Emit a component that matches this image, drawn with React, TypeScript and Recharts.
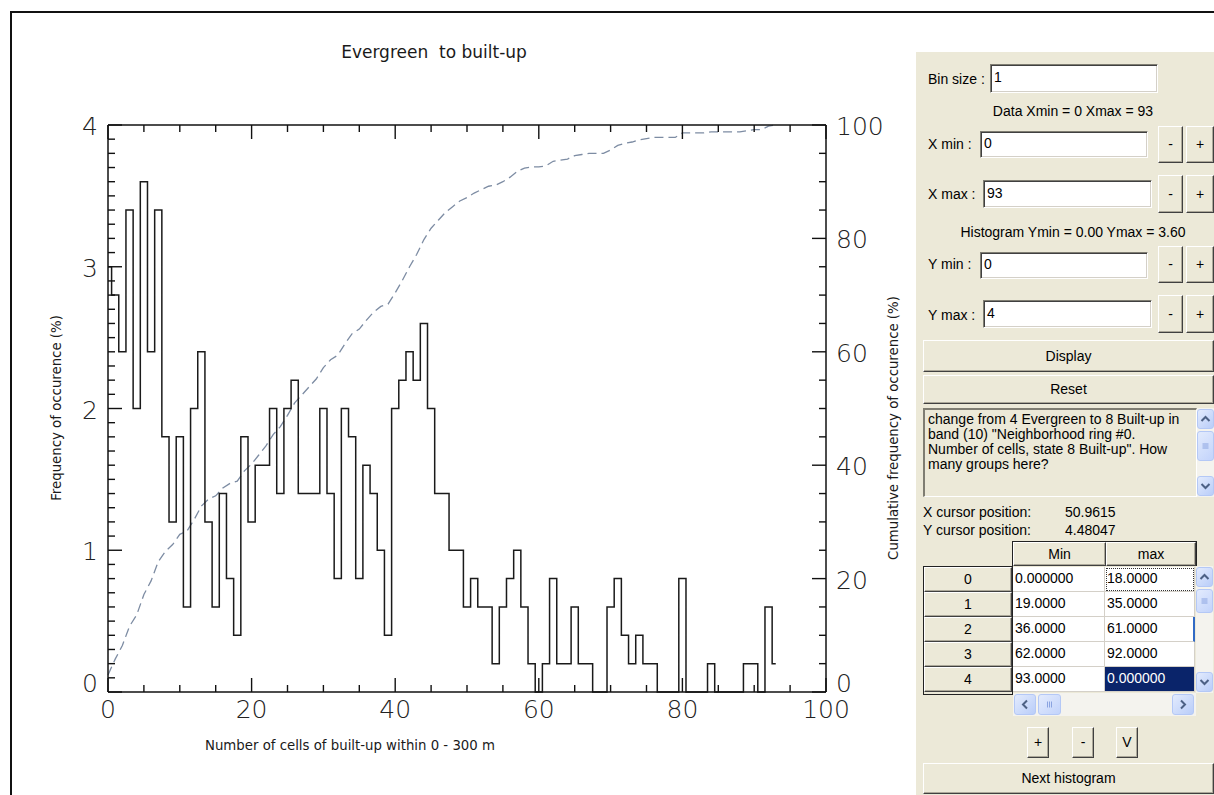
import React from 'react';
import { ComposedChart, Line, XAxis, YAxis } from 'recharts';

// histogram bins (bin size 1, data 0..93)
const bins = Array.from({ length: 94 }, (_, i) => i);

// frequency of occurence (%) per bin
const frequency = [
  3.0, 2.8, 2.4, 3.4, 2.0, 3.6, 2.4, 3.4, 1.8, 1.2,
  1.8, 0.6, 2.0, 2.4, 1.2, 0.6, 1.4, 0.8, 0.4, 1.8,
  1.2, 1.6, 1.6, 2.0, 1.4, 2.0, 2.2, 1.4, 1.4, 1.4,
  2.0, 1.4, 0.8, 2.0, 1.8, 0.8, 1.6, 1.4, 1.0, 0.4,
  2.0, 2.2, 2.4, 2.2, 2.6, 2.0, 1.4, 1.4, 1.0, 1.0,
  0.6, 0.8, 0.6, 0.6, 0.2, 0.6, 0.8, 1.0, 0.6, 0.2,
  0.0, 0.2, 0.8, 0.2, 0.2, 0.6, 0.2, 0.2, 0.0, 0.0,
  0.6, 0.8, 0.4, 0.2, 0.4, 0.2, 0.2, 0.0, 0.0, 0.0,
  0.8, 0.0, 0.0, 0.0, 0.2, 0.0, 0.0, 0.0, 0.0, 0.2,
  0.2, 0.0, 0.6, 0.2,
];

// cumulative frequency of occurence (%)
const cumulative = [
  3.0, 5.8, 8.2, 11.6, 13.6, 17.2, 19.6, 23.0, 24.8, 26.0,
  27.8, 28.4, 30.4, 32.8, 34.0, 34.6, 36.0, 36.8, 37.2, 39.0,
  40.2, 41.8, 43.4, 45.4, 46.8, 48.8, 51.0, 52.4, 53.8, 55.2,
  57.2, 58.6, 59.4, 61.4, 63.2, 64.0, 65.6, 67.0, 68.0, 68.4,
  70.4, 72.6, 75.0, 77.2, 79.8, 81.8, 83.2, 84.6, 85.6, 86.6,
  87.2, 88.0, 88.6, 89.2, 89.4, 90.0, 90.8, 91.8, 92.4, 92.6,
  92.6, 92.8, 93.6, 93.8, 94.0, 94.6, 94.8, 95.0, 95.0, 95.0,
  95.6, 96.4, 96.8, 97.0, 97.4, 97.6, 97.8, 97.8, 97.8, 97.8,
  98.6, 98.6, 98.6, 98.6, 98.8, 98.8, 98.8, 98.8, 98.8, 99.0,
  99.2, 99.2, 99.8, 100.0,
];

const xTickLabels = [0, 20, 40, 60, 80, 100];
const leftTickLabels = [0, 1, 2, 3, 4];
const rightTickLabels = [0, 20, 40, 60, 80, 100];

// minor tick positions
const xTicks = Array.from({ length: 21 }, (_, i) => i * 5);
const leftTicks = Array.from({ length: 41 }, (_, i) => i / 10);
const rightTicks = Array.from({ length: 21 }, (_, i) => i * 5);

const rangeRows = [
  ['0', '0.000000', '18.0000'],
  ['1', '19.0000', '35.0000'],
  ['2', '36.0000', '61.0000'],
  ['3', '62.0000', '92.0000'],
  ['4', '93.0000', '0.000000'],
];

const descLines = [
  'change from 4 Evergreen to 8 Built-up in',
  'band (10) "Neighborhood ring #0.',
  'Number of cells, state 8 Built-up". How',
  'many groups here?',
];

const chartData = bins.map((b, i) => ({ x: b, freq: frequency[i], cum: cumulative[i] }));

const MAJOR = 14;
const MINOR = 7;
const tickFont = {
  fontFamily: '"DejaVu Sans", sans-serif',
  fontWeight: 200,
  fontSize: 25,
  fill: '#222',
};

const isIn = (v: number, list: number[]) => list.some(m => Math.abs(m - v) < 1e-6);

const makeTick = (side: string, majors: number[], labels: boolean) => (props: any) => {
  const { x, y, payload } = props;
  const v = payload.value as number;
  const major = isIn(v, majors);
  const len = major ? MAJOR : MINOR;
  const ln = { stroke: '#111', strokeWidth: 1.4 };
  let line = null;
  let text = null;
  const dy = v === 0 ? 0 : 10;
  if (side === 'bottom') {
    line = <line x1={x} y1={y} x2={x} y2={y - len} {...ln} />;
    if (labels && major) text = <text x={x} y={y + 26} textAnchor="middle" {...tickFont}>{v}</text>;
  } else if (side === 'top') {
    line = <line x1={x} y1={y} x2={x} y2={y + len} {...ln} />;
  } else if (side === 'left') {
    line = <line x1={x} y1={y} x2={x + len} y2={y} {...ln} />;
    if (labels && major) text = <text x={x - 10} y={y + dy} textAnchor="end" {...tickFont}>{v}</text>;
  } else {
    line = <line x1={x} y1={y} x2={x - len} y2={y} {...ln} />;
    if (labels && major) text = <text x={x + 10} y={y + dy} textAnchor="start" {...tickFont}>{v}</text>;
  }
  return <g>{line}{text}</g>;
};

const axisLine = { stroke: '#111', strokeWidth: 1.5 };

const PANEL_BG = '#ece9d8';
const uiFont = '"Liberation Sans", Arial, sans-serif';

const Box = ({ x, y, w, h, style, children }: any) => (
  <div style={{ position: 'absolute', left: x, top: y, width: w, height: h, boxSizing: 'border-box', ...style }}>
    {children}
  </div>
);

const Text = ({ x, y, text, center }: any) =>
  center ? (
    <div style={{ position: 'absolute', left: x - 200, top: y - 9, width: 400, textAlign: 'center', lineHeight: '18px', whiteSpace: 'pre' }}>{text}</div>
  ) : (
    <div style={{ position: 'absolute', left: x, top: y - 9, lineHeight: '18px', whiteSpace: 'pre' }}>{text}</div>
  );

const Field = ({ x, y, w, h, value }: any) => (
  <Box x={x} y={y} w={w} h={h} style={{
    background: '#fff',
    borderTop: '1px solid #7f7d72', borderLeft: '1px solid #7f7d72',
    borderRight: '1px solid #fff', borderBottom: '1px solid #fff',
    boxShadow: 'inset 1px 1px 0 #404040, inset -1px -1px 0 #d4d0c8',
    paddingLeft: 3, lineHeight: `${h - 4}px`,
  }}>{value}</Box>
);

const Btn = ({ x, y, w, h, text }: any) => (
  <Box x={x} y={y} w={w} h={h} style={{
    background: PANEL_BG,
    borderTop: '1px solid #fff', borderLeft: '1px solid #fff',
    borderRight: '1px solid #404040', borderBottom: '1px solid #404040',
    boxShadow: 'inset -1px -1px 0 #aca899',
    textAlign: 'center', lineHeight: `${h - 2}px`,
  }}>{text}</Box>
);

const Chevron = ({ w, h, dir }: any) => {
  const cx = w / 2;
  const cy = h / 2;
  let d = '';
  if (dir === 'up') d = `M${cx - 4} ${cy + 2} L${cx} ${cy - 2} L${cx + 4} ${cy + 2}`;
  if (dir === 'down') d = `M${cx - 4} ${cy - 2} L${cx} ${cy + 2} L${cx + 4} ${cy - 2}`;
  if (dir === 'left') d = `M${cx + 2} ${cy - 4} L${cx - 2} ${cy} L${cx + 2} ${cy + 4}`;
  if (dir === 'right') d = `M${cx - 2} ${cy - 4} L${cx + 2} ${cy} L${cx - 2} ${cy + 4}`;
  return (
    <svg width={w} height={h} style={{ display: 'block' }}>
      <path d={d} stroke="#4d6185" strokeWidth={2} fill="none" />
    </svg>
  );
};

const ScrollBtn = ({ x, y, w, h, dir }: any) => (
  <Box x={x} y={y} w={w} h={h} style={{
    background: 'linear-gradient(135deg, #e3ebfd, #b9cdf9)',
    border: '1px solid #b4c8f6', borderRadius: 3,
  }}>
    <Chevron w={w - 2} h={h - 2} dir={dir} />
  </Box>
);

const Thumb = ({ x, y, w, h, vertical }: any) => (
  <Box x={x} y={y} w={w} h={h} style={{
    background: 'linear-gradient(135deg, #e3ebfd, #c2d3fb)',
    border: '1px solid #b4c8f6', borderRadius: 3,
  }}>
    <svg width={w - 2} height={h - 2} style={{ display: 'block' }}>
      {[-2, 0, 2].map(o =>
        vertical ? (
          <line key={o} x1={(w - 2) / 2 - 3} x2={(w - 2) / 2 + 3} y1={(h - 2) / 2 + o} y2={(h - 2) / 2 + o} stroke="#8aa3e0" />
        ) : (
          <line key={o} y1={(h - 2) / 2 - 3} y2={(h - 2) / 2 + 3} x1={(w - 2) / 2 + o} x2={(w - 2) / 2 + o} stroke="#8aa3e0" />
        ),
      )}
    </svg>
  </Box>
);

const Panel = () => (
  <div style={{ position: 'absolute', left: 916, top: 52, width: 298, height: 743, background: PANEL_BG }}>
    <div style={{ position: 'absolute', left: -916, top: -52, fontFamily: uiFont, fontSize: 14, color: '#000' }}>
      <Text x={928} y={79} text="Bin size :" />
      <Field x={990} y={64} w={168} h={29} value="1" />
      <Text x={1073} y={111} text="Data Xmin = 0 Xmax = 93" center />

      <Text x={928} y={144} text="X min :" />
      <Field x={980} y={131} w={168} h={27} value="0" />
      <Btn x={1158} y={126} w={25} h={37} text="-" />
      <Btn x={1186} y={126} w={28} h={37} text="+" />

      <Text x={928} y={194} text="X max :" />
      <Field x={983} y={180} w={169} h={28} value="93" />
      <Btn x={1158} y={175} w={25} h={38} text="-" />
      <Btn x={1186} y={175} w={28} h={38} text="+" />

      <Text x={1073} y={232} text="Histogram Ymin = 0.00 Ymax = 3.60" center />

      <Text x={928} y={264} text="Y min :" />
      <Field x={980} y={252} w={168} h={27} value="0" />
      <Btn x={1158} y={246} w={25} h={37} text="-" />
      <Btn x={1186} y={246} w={28} h={37} text="+" />

      <Text x={928} y={315} text="Y max :" />
      <Field x={983} y={300} w={169} h={28} value="4" />
      <Btn x={1158} y={295} w={25} h={38} text="-" />
      <Btn x={1186} y={295} w={28} h={38} text="+" />

      <Btn x={923} y={340} w={291} h={32} text="Display" />
      <Btn x={923} y={375} w={291} h={29} text="Reset" />

      <Box x={923} y={408} w={274} h={89} style={{
        borderTop: '2px solid #7f7d72', borderLeft: '2px solid #7f7d72',
        borderRight: '1px solid #fff', borderBottom: '1px solid #fff',
        padding: '2px 0 0 3px', lineHeight: '15px',
      }}>
        {descLines.map(l => <div key={l} style={{ whiteSpace: 'pre' }}>{l}</div>)}
      </Box>
      <Box x={1197} y={408} w={17} h={89} style={{ background: '#f4f3ee' }} />
      <ScrollBtn x={1197} y={409} w={17} h={20} dir="up" />
      <Thumb x={1197} y={431} w={17} h={30} vertical />
      <ScrollBtn x={1197} y={476} w={17} h={20} dir="down" />

      <Text x={923} y={512} text="X cursor position:" />
      <Text x={1065} y={512} text="50.9615" />
      <Text x={923} y={530} text="Y cursor position:" />
      <Text x={1065} y={530} text="4.48047" />

      {/* header row */}
      <Box x={1012} y={541} w={185} h={26} style={{ border: '1px solid #222', borderBottom: 'none', background: PANEL_BG }} />
      <Btn x={1013} y={542} w={93} h={24} text="Min" />
      <Btn x={1106} y={542} w={90} h={24} text="max" />

      {/* row headers */}
      <Box x={923} y={566} w={90} h={129} style={{ border: '1px solid #222', background: PANEL_BG }} />
      {rangeRows.map((r, i) => (
        <Btn key={'h' + r[0]} x={924} y={567 + i * 25} w={88} h={25} text={r[0]} />
      ))}

      {/* cells */}
      {rangeRows.map((r, i) => (
        <React.Fragment key={'r' + r[0]}>
          <Box x={1013} y={567 + i * 25} w={92} h={25} style={{
            background: '#fff', borderRight: '1px solid #d4d0c8', borderBottom: '1px solid #d4d0c8',
            paddingLeft: 2, lineHeight: '22px',
          }}>{r[1]}</Box>
          <Box x={1105} y={567 + i * 25} w={90} h={25} style={{
            background: i === 4 ? '#0a246a' : '#fff',
            color: i === 4 ? '#fff' : '#000',
            borderRight: i === 2 ? '2px solid #316ac5' : '1px solid #d4d0c8',
            borderBottom: '1px solid #d4d0c8',
            outline: i === 0 ? '1px dotted #333' : 'none', outlineOffset: -2,
            paddingLeft: 2, lineHeight: '22px',
          }}>{r[2]}</Box>
        </React.Fragment>
      ))}

      {/* table vertical scrollbar */}
      <Box x={1196} y={566} w={17} h={127} style={{ background: '#f4f3ee' }} />
      <ScrollBtn x={1196} y={567} w={17} h={20} dir="up" />
      <Thumb x={1196} y={589} w={17} h={24} vertical />
      <ScrollBtn x={1196} y={672} w={17} h={20} dir="down" />

      {/* table horizontal scrollbar */}
      <Box x={1013} y={693} w={183} h={23} style={{ background: '#f4f3ee' }} />
      <ScrollBtn x={1014} y={694} w={22} h={21} dir="left" />
      <Thumb x={1038} y={694} w={23} h={21} />
      <ScrollBtn x={1172} y={694} w={22} h={21} dir="right" />

      <Btn x={1027} y={727} w={22} h={31} text="+" />
      <Btn x={1072} y={727} w={22} h={31} text="-" />
      <Btn x={1116} y={727} w={22} h={31} text="V" />

      <Btn x={923} y={763} w={291} h={31} text="Next histogram" />
    </div>
  </div>
);

const labelFont = {
  fontFamily: '"DejaVu Sans", sans-serif',
  fill: '#1a1a1a',
};

const App = () => (
  <div style={{ position: 'absolute', left: 0, top: 0, width: 1214, height: 795, background: '#fff', overflow: 'hidden' }}>
    {/* window frame */}
    <div style={{ position: 'absolute', left: 11, top: 11, width: 1203, height: 2, background: '#111' }} />
    <div style={{ position: 'absolute', left: 10, top: 11, width: 2, height: 784, background: '#111' }} />

    <div style={{ position: 'absolute', left: 0, top: 0 }}>
      <ComposedChart
        width={910}
        height={795}
        data={chartData}
        margin={{ top: 105, left: 88, right: 64, bottom: 83 }}
      >
        <XAxis
          xAxisId="b" dataKey="x" type="number" domain={[0, 100]} ticks={xTicks} interval={0}
          orientation="bottom" height={20} tickLine={false} tickSize={0} tickMargin={0}
          axisLine={axisLine} tick={makeTick('bottom', xTickLabels, true)}
        />
        <XAxis
          xAxisId="t" dataKey="x" type="number" domain={[0, 100]} ticks={xTicks} interval={0}
          orientation="top" height={20} tickLine={false} tickSize={0} tickMargin={0}
          axisLine={axisLine} tick={makeTick('top', xTickLabels, false)}
        />
        <YAxis
          yAxisId="left" type="number" domain={[0, 4]} ticks={leftTicks} interval={0}
          orientation="left" width={20} tickLine={false} tickSize={0} tickMargin={0}
          axisLine={axisLine} tick={makeTick('left', leftTickLabels, true)}
        />
        <YAxis
          yAxisId="right" type="number" domain={[0, 100]} ticks={rightTicks} interval={0}
          orientation="right" width={20} tickLine={false} tickSize={0} tickMargin={0}
          axisLine={axisLine} tick={makeTick('right', rightTickLabels, true)}
        />
        <Line
          xAxisId="b" yAxisId="right" dataKey="cum" type="linear"
          stroke="#7d8ca3" strokeWidth={1.3} strokeDasharray="9 5"
          dot={false} activeDot={false} isAnimationActive={false}
        />
        <Line
          xAxisId="b" yAxisId="left" dataKey="freq" type="step"
          stroke="#1a1a1a" strokeWidth={1.5}
          dot={false} activeDot={false} isAnimationActive={false}
        />
      </ComposedChart>
    </div>

    <svg width={910} height={795} style={{ position: 'absolute', left: 0, top: 0, pointerEvents: 'none' }}>
      <text x={434} y={58} textAnchor="middle" fontSize={17} style={{ whiteSpace: 'pre' }} {...labelFont}>
        {'Evergreen  to built-up'}
      </text>
      <text x={205} y={750} textAnchor="start" fontSize={13.3} {...labelFont}>
        Number of cells of built-up within 0 - 300 m
      </text>
      <text x={0} y={0} textAnchor="middle" fontSize={13.3} transform="translate(61 408) rotate(-90)" {...labelFont}>
        Frequency of occurence (%)
      </text>
      <text x={0} y={0} textAnchor="middle" fontSize={13.3} transform="translate(898 428) rotate(-90)" {...labelFont}>
        Cumulative frequency of occurence (%)
      </text>
    </svg>

    <Panel />
  </div>
);

export default App;
